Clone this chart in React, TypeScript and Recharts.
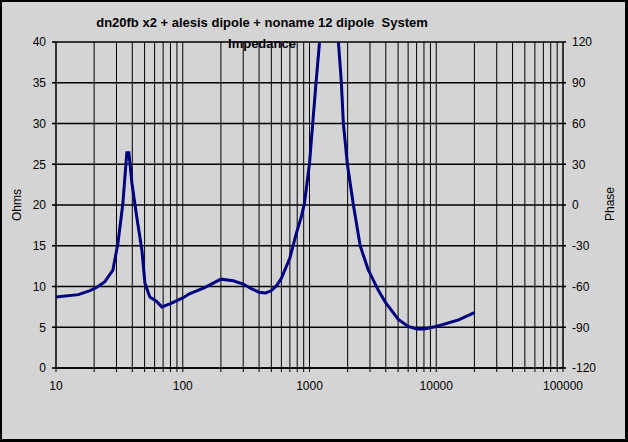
import React from "react";
import { LineChart, Line, XAxis, YAxis, CartesianGrid } from "recharts";

const freqs = [
  10, 15, 18.5, 21, 24.3, 28.1, 30.8, 33.7, 36.2, 37.6, 39.7, 43.4, 47.6, 50.3, 55, 62, 68.3, 80, 100, 113,
  150, 200, 250, 300, 350, 400, 450, 500, 550, 600, 700, 790, 860, 912, 1000, 1060, 1130, 1200, 1300, 1450,
  1600, 1690, 1780, 1850, 1990, 2220, 2510, 2915, 3500, 4000, 5000, 6000, 7000, 8000, 10000, 15000, 20000,
];
const ohms = [
  8.7, 9.0, 9.5, 9.9, 10.6, 12.0, 15.3, 20.2, 26.4, 26.4, 22.7, 18.5, 14.5, 10.4, 8.7, 8.2, 7.5, 7.9, 8.6, 9.1,
  9.9, 10.9, 10.7, 10.3, 9.7, 9.3, 9.2, 9.5, 10.1, 11.0, 13.5, 16.6, 18.5, 20.2, 25.1, 30, 35.3, 40, 46, 50,
  45, 40, 35.3, 30, 25, 20, 15, 12, 9.5, 8.0, 6.0, 5.1, 4.8, 4.8, 5.1, 5.9, 6.8,
];

const decadeLabels = [10, 100, 1000, 10000, 100000];
const ohmTicks = [0, 5, 10, 15, 20, 25, 30, 35, 40];
const phaseTicks = [-120, -90, -60, -30, 0, 30, 60, 90, 120];

const titleLines = ["dn20fb x2 + alesis dipole + noname 12 dipole  System", "Impedance"];

const xTicks: number[] = [];
[10, 100, 1000, 10000].forEach((d) => {
  for (let k = 1; k <= 9; k++) xTicks.push(k * d);
});
xTicks.push(100000);

const xDomain = [10, 100000];

const data = freqs.map((f, i) => ({ f, ohms: ohms[i], phase: null as number | null }));

const font = "Arial, 'Liberation Sans', sans-serif";
const tickStyle = { fill: "#000", fontSize: 12, fontFamily: font };

export default function App() {
  return (
    <div
      style={{
        position: "absolute",
        left: 0,
        top: 0,
        width: 628,
        height: 442,
        boxSizing: "border-box",
        background: "#d4d4d4",
        borderStyle: "solid",
        borderColor: "#000",
        borderWidth: "2px 3px 3px 2px",
        overflow: "hidden",
      }}
    >
      <div style={{ position: "absolute", left: -2, top: -2 }}>
        <LineChart width={628} height={442} data={data} margin={{ top: 42, right: 0, bottom: 0, left: 0 }}>
          <CartesianGrid yAxisId="left" vertical={false} stroke="#000" strokeWidth={1.6} fill="none" />
          <CartesianGrid yAxisId="left" horizontal={false} stroke="#000" strokeWidth={1} fill="none" />
          <XAxis
            dataKey="f"
            type="number"
            scale="log"
            domain={xDomain}
            ticks={xTicks}
            interval={0}
            height={74}
            tickSize={4}
            tickMargin={9}
            tick={tickStyle}
            tickLine={{ stroke: "#000" }}
            axisLine={{ stroke: "#000", strokeWidth: 1.6 }}
            tickFormatter={(v: number) => (decadeLabels.includes(v) ? String(v) : "")}
            allowDataOverflow
          />
          <YAxis
            yAxisId="left"
            domain={[0, 40]}
            ticks={ohmTicks}
            interval={0}
            width={56}
            tickSize={4}
            tickMargin={6}
            tick={tickStyle}
            tickLine={{ stroke: "#000", strokeWidth: 1.6 }}
            axisLine={{ stroke: "#000" }}
            allowDataOverflow
          />
          <YAxis
            yAxisId="right"
            orientation="right"
            domain={[-120, 120]}
            ticks={phaseTicks}
            interval={0}
            width={65}
            tickSize={3}
            tickMargin={6}
            tick={tickStyle}
            tickLine={{ stroke: "#000", strokeWidth: 1.6 }}
            axisLine={{ stroke: "#000" }}
            allowDataOverflow
          />
          <Line
            yAxisId="right"
            dataKey="phase"
            stroke="none"
            dot={false}
            legendType="none"
            isAnimationActive={false}
          />
          <Line
            yAxisId="left"
            dataKey="ohms"
            stroke="#000080"
            strokeWidth={3}
            dot={false}
            type="linear"
            isAnimationActive={false}
          />
        </LineChart>
      </div>
      {titleLines.map((t, i) => (
        <div
          key={i}
          style={{
            position: "absolute",
            left: 262 - 2 - 250,
            width: 500,
            top: 13 + i * 21,
            textAlign: "center",
            fontFamily: font,
            fontWeight: "bold",
            fontSize: 13,
            lineHeight: "16px",
            whiteSpace: "pre",
            color: "#000",
          }}
        >
          {t}
        </div>
      ))}
      <div
        style={{
          position: "absolute",
          left: 17 - 2 - 40,
          top: 205 - 2 - 8,
          width: 80,
          height: 16,
          lineHeight: "16px",
          textAlign: "center",
          transform: "rotate(-90deg)",
          fontFamily: font,
          fontSize: 12,
        }}
      >
        Ohms
      </div>
      <div
        style={{
          position: "absolute",
          left: 610 - 2 - 40,
          top: 204 - 2 - 8,
          width: 80,
          height: 16,
          lineHeight: "16px",
          textAlign: "center",
          transform: "rotate(-90deg)",
          fontFamily: font,
          fontSize: 12,
        }}
      >
        Phase
      </div>
    </div>
  );
}
